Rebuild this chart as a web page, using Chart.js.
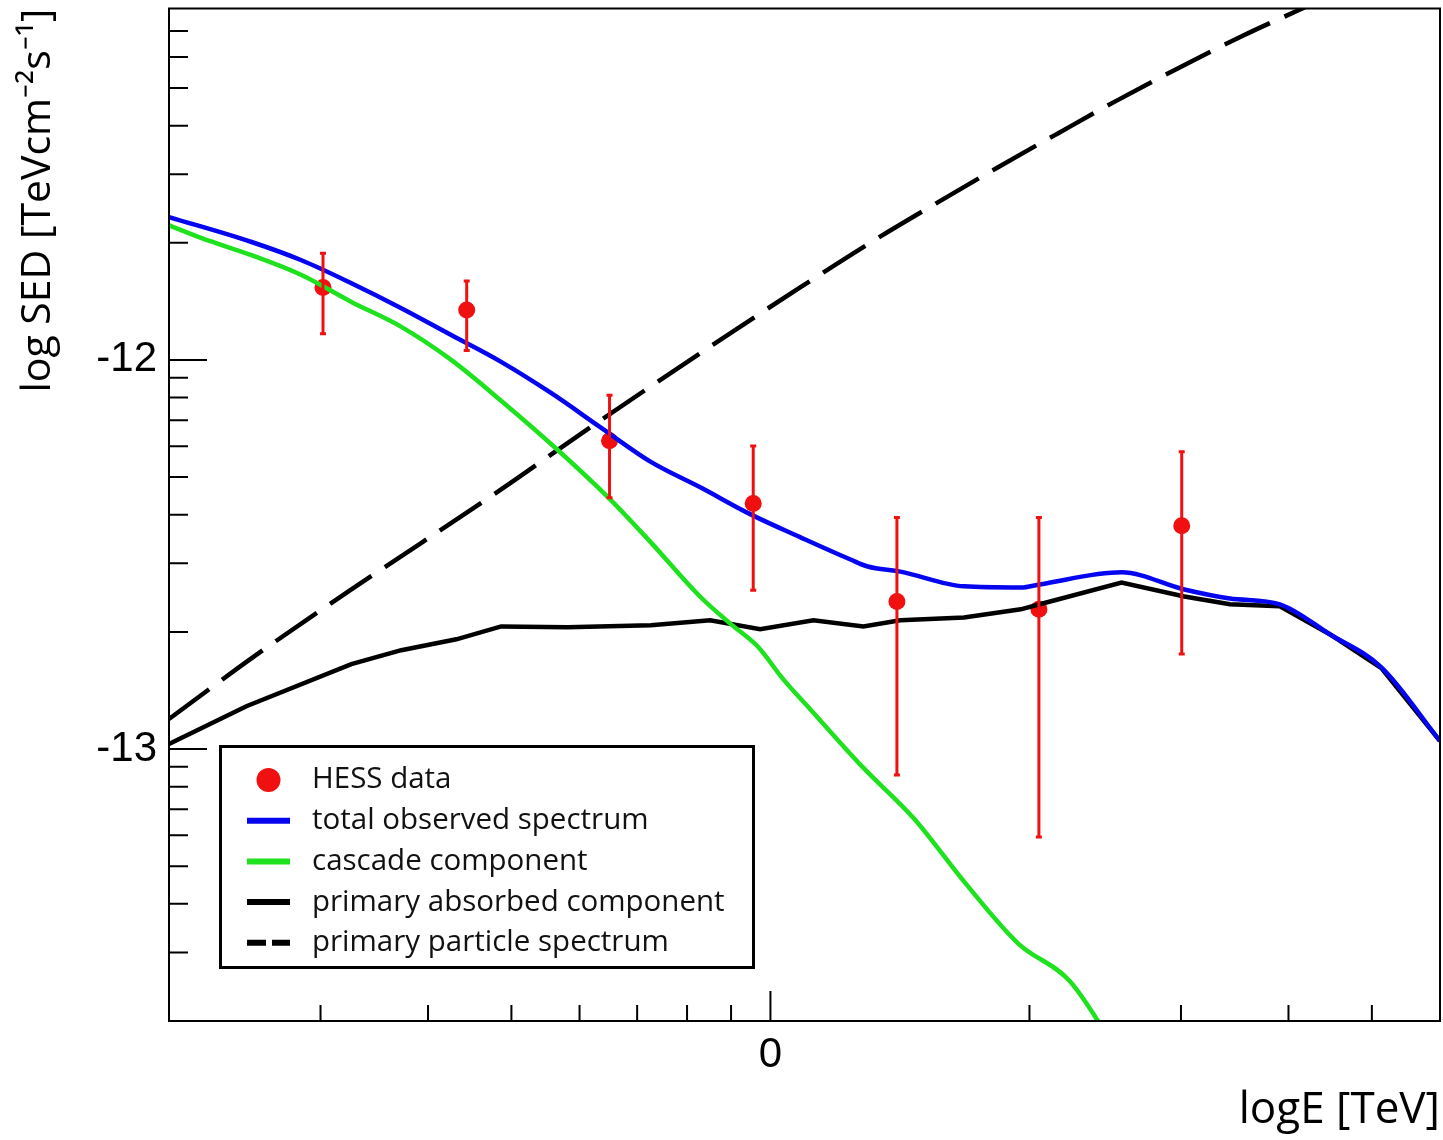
<!DOCTYPE html>
<html>
<head>
<meta charset="utf-8">
<script src="https://cdn.jsdelivr.net/npm/chart.js@4.4.0/dist/chart.umd.min.js"></script>
<style>
html,body{margin:0;padding:0;background:#fff;}
#wrap{width:1443px;height:1140px;position:relative;}
canvas{display:block;}
</style>
</head>
<body>
<div id="wrap"><canvas id="c" width="1443" height="1140"></canvas></div>
<script>
// x values: log10(E / TeV); y values: log10(SED / TeV cm^-2 s^-1)
const hessX     = [-0.520, -0.353, -0.187, -0.020, 0.147, 0.312, 0.478];
const hessY     = [-11.814, -11.872, -12.208, -12.369, -12.621, -12.641, -12.426];
const hessYHigh = [-11.726, -11.797, -12.091, -12.221, -12.405, -12.405, -12.236];
const hessYLow  = [-11.933, -11.976, -12.354, -12.592, -13.067, -13.226, -12.756];

const totalX = [-0.699, -0.603, -0.545, -0.487, -0.429, -0.371, -0.313, -0.255, -0.197, -0.139, -0.081, -0.023, 0.035, 0.093, 0.113, 0.151, 0.225, 0.291, 0.313, 0.408, 0.481, 0.534, 0.592, 0.650, 0.710, 0.778];
const totalY = [-11.633, -11.697, -11.744, -11.803, -11.867, -11.936, -12.005, -12.085, -12.174, -12.262, -12.328, -12.397, -12.456, -12.513, -12.531, -12.544, -12.582, -12.585, -12.577, -12.546, -12.590, -12.613, -12.628, -12.705, -12.790, -12.979];

const cascadeX = [-0.699, -0.661, -0.603, -0.545, -0.487, -0.429, -0.371, -0.313, -0.244, -0.186, -0.139, -0.081, -0.046, -0.015, 0.015, 0.046, 0.107, 0.167, 0.227, 0.288, 0.348, 0.408];
const cascadeY = [-11.654, -11.687, -11.731, -11.782, -11.851, -11.915, -12.000, -12.105, -12.238, -12.359, -12.469, -12.610, -12.679, -12.736, -12.821, -12.897, -13.046, -13.179, -13.346, -13.500, -13.597, -13.795];

const absorbedX = [-0.699, -0.609, -0.487, -0.429, -0.365, -0.313, -0.236, -0.139, -0.070, -0.012, 0.050, 0.108, 0.151, 0.225, 0.291, 0.313, 0.408, 0.481, 0.534, 0.592, 0.650, 0.710, 0.778];
const absorbedY = [-12.987, -12.890, -12.782, -12.746, -12.718, -12.685, -12.687, -12.682, -12.669, -12.692, -12.669, -12.685, -12.669, -12.662, -12.641, -12.628, -12.572, -12.608, -12.628, -12.633, -12.705, -12.792, -12.979];

const primaryX = [-0.699, -0.600, -0.487, -0.313, -0.217, -0.081, 0.035, 0.121, 0.193, 0.262, 0.334, 0.403, 0.475, 0.549, 0.618, 0.684];
const primaryY = [-12.923, -12.762, -12.590, -12.333, -12.185, -11.982, -11.813, -11.692, -11.597, -11.508, -11.418, -11.333, -11.249, -11.167, -11.097, -11.031];

const seriesLabels = ['HESS data', 'total observed spectrum', 'cascade component', 'primary absorbed component', 'primary particle spectrum'];

// axis ranges (E from 0.2 to 6 TeV, SED from 2e-14 to 8e-12)
const xMinE = 0.2, xMaxE = 6;
const yMinS = 2e-14, yMaxS = 8e-12;
const xLabelTicks = [0];
const xLabelTexts = ['0'];
const yLabelTicks = [-13, -12];
const yLabelTexts = ['-13', '-12'];

const pts = (xs, ys) => xs.map((x, i) => ({x: x, y: ys[i]}));

const RED = '#f01010', BLUE = '#0505f0', GREEN = '#1ee21e', BLACK = '#000000';
const CLEAR = 'rgba(0,0,0,0)';

const datasets = [
  {label: seriesLabels[1], data: pts(totalX, totalY), borderColor: BLUE, borderWidth: 4.5, pointRadius: 0, fill: false, cubicInterpolationMode: 'monotone', kind: 'line'},
  {label: seriesLabels[2], data: pts(cascadeX, cascadeY), borderColor: GREEN, borderWidth: 4.5, pointRadius: 0, fill: false, cubicInterpolationMode: 'monotone', kind: 'line'},
  {label: seriesLabels[3], data: pts(absorbedX, absorbedY), borderColor: BLACK, borderWidth: 4.5, pointRadius: 0, fill: false, tension: 0, kind: 'line'},
  {label: seriesLabels[4], data: pts(primaryX, primaryY), borderColor: BLACK, borderWidth: 4.5, borderDash: [50, 16], pointRadius: 0, fill: false, cubicInterpolationMode: 'monotone', kind: 'dash'},
  {label: seriesLabels[0], data: pts(hessX, hessY), showLine: false, pointRadius: 8.5, pointHoverRadius: 8.5, backgroundColor: RED, borderColor: RED, borderWidth: 0, kind: 'point'}
];
const legendOrder = [4, 0, 1, 2, 3];

const decoPlugin = {
  id: 'deco',
  afterDatasetsDraw(chart) {
    const {ctx, scales: {x, y}} = chart;
    ctx.save();
    ctx.strokeStyle = RED;
    ctx.lineWidth = 3;
    for (let i = 0; i < hessX.length; i++) {
      const px = x.getPixelForValue(hessX[i]);
      const pt = y.getPixelForValue(hessYHigh[i]);
      const pb = y.getPixelForValue(hessYLow[i]);
      ctx.beginPath();
      ctx.moveTo(px, pt); ctx.lineTo(px, pb);
      ctx.stroke();
      ctx.beginPath();
      ctx.moveTo(px - 3, pt); ctx.lineTo(px + 3, pt);
      ctx.moveTo(px - 3, pb); ctx.lineTo(px + 3, pb);
      ctx.stroke();
    }
    ctx.restore();
  },
  afterDraw(chart) {
    const {ctx, chartArea: a, scales: {x, y}} = chart;
    ctx.save();
    // frame
    ctx.strokeStyle = '#000';
    ctx.lineWidth = 2;
    ctx.strokeRect(a.left, a.top, a.right - a.left, a.bottom - a.top);
    // inward log ticks
    ctx.lineWidth = 2;
    ctx.beginPath();
    for (let n = -15; n <= -11; n++) {
      for (let k = 1; k <= 9; k++) {
        const v = n + Math.log10(k);
        const p = y.getPixelForValue(v);
        if (p <= a.top + 2 || p >= a.bottom - 2) continue;
        const len = k === 1 ? 38 : 19;
        ctx.moveTo(a.left, p); ctx.lineTo(a.left + len, p);
      }
    }
    for (let n = -2; n <= 1; n++) {
      for (let k = 1; k <= 9; k++) {
        const v = n + Math.log10(k);
        const p = x.getPixelForValue(v);
        if (p <= a.left + 2 || p >= a.right - 2) continue;
        const len = k === 1 ? 30 : 16;
        ctx.moveTo(p, a.bottom); ctx.lineTo(p, a.bottom - len);
      }
    }
    ctx.stroke();

    // legend box
    const L = {x: 219, y: 745, w: 536, h: 224};
    ctx.fillStyle = '#fff';
    ctx.fillRect(L.x, L.y, L.w, L.h);
    ctx.lineWidth = 3;
    ctx.strokeStyle = '#000';
    ctx.strokeRect(L.x + 1.5, L.y + 1.5, L.w - 3, L.h - 3);
    const rowY0 = L.y + 35, rowStep = 40.7;
    const symX1 = 247, symX2 = 290, textX = 312;
    ctx.font = '29.5px "Open Sans"';
    ctx.textBaseline = 'middle';
    ctx.textAlign = 'left';
    legendOrder.forEach((di, r) => {
      const ds = chart.data.datasets[di];
      const ry = rowY0 + r * rowStep;
      if (ds.kind === 'point') {
        ctx.fillStyle = ds.backgroundColor;
        ctx.beginPath();
        ctx.arc((symX1 + symX2) / 2, ry, 12, 0, Math.PI * 2);
        ctx.fill();
      } else {
        ctx.strokeStyle = ds.borderColor;
        ctx.lineWidth = 6;
        ctx.setLineDash(ds.kind === 'dash' ? [19, 6] : []);
        ctx.beginPath();
        ctx.moveTo(symX1, ry); ctx.lineTo(symX2, ry);
        ctx.stroke();
        ctx.setLineDash([]);
      }
      ctx.fillStyle = '#111';
      ctx.fillText(ds.label, textX, ry);
    });
    ctx.restore();
  }
};

new Chart(document.getElementById('c'), {
  type: 'line',
  data: {datasets: datasets},
  options: {
    responsive: false,
    animation: false,
    devicePixelRatio: 1,
    layout: {autoPadding: false, padding: {top: 8.5, right: 3, left: 0, bottom: 0}},
    plugins: {legend: {display: false}, tooltip: {enabled: false}},
    scales: {
      x: {
        type: 'linear',
        min: Math.log10(xMinE),
        max: Math.log10(xMaxE),
        afterBuildTicks: s => { s.ticks = xLabelTicks.map(v => ({value: v})); },
        afterFit: s => { s.height = 119; s.paddingLeft = 0; s.paddingRight = 0; },
        ticks: {
          autoSkip: false, maxRotation: 0,
          padding: 0,
          color: '#000',
          font: {family: '"Liberation Sans", Arial, sans-serif', size: 42},
          callback: v => { const i = xLabelTicks.indexOf(v); return i >= 0 ? xLabelTexts[i] : ''; }
        },
        grid: {display: true, drawOnChartArea: false, drawTicks: true, tickLength: 9, color: CLEAR, tickColor: CLEAR},
        border: {display: true, color: '#000', width: 2},
        title: {
          display: true, text: 'logE [TeV]', align: 'end', color: '#000',
          font: {family: '"Open Sans", sans-serif', size: 44},
          padding: {top: 0, bottom: 3}
        }
      },
      y: {
        type: 'linear',
        min: Math.log10(yMinS),
        max: Math.log10(yMaxS),
        afterBuildTicks: s => { s.ticks = yLabelTicks.map(v => ({value: v})); },
        afterFit: s => { s.width = 169; s.paddingTop = 0; s.paddingBottom = 0; },
        ticks: {
          autoSkip: false,
          padding: 12,
          color: '#000',
          font: {family: '"Liberation Sans", Arial, sans-serif', size: 42},
          callback: v => { const i = yLabelTicks.indexOf(v); return i >= 0 ? yLabelTexts[i] : ''; }
        },
        grid: {display: false, drawTicks: false},
        border: {display: true, color: '#000', width: 2},
        title: {
          display: true, text: 'log SED [TeVcm⁻²s⁻¹]', align: 'end', color: '#000',
          font: {family: '"Open Sans", sans-serif', size: 41},
          padding: {top: 14, bottom: 0}
        }
      }
    }
  },
  plugins: [decoPlugin]
});
</script>
</body>
</html>
